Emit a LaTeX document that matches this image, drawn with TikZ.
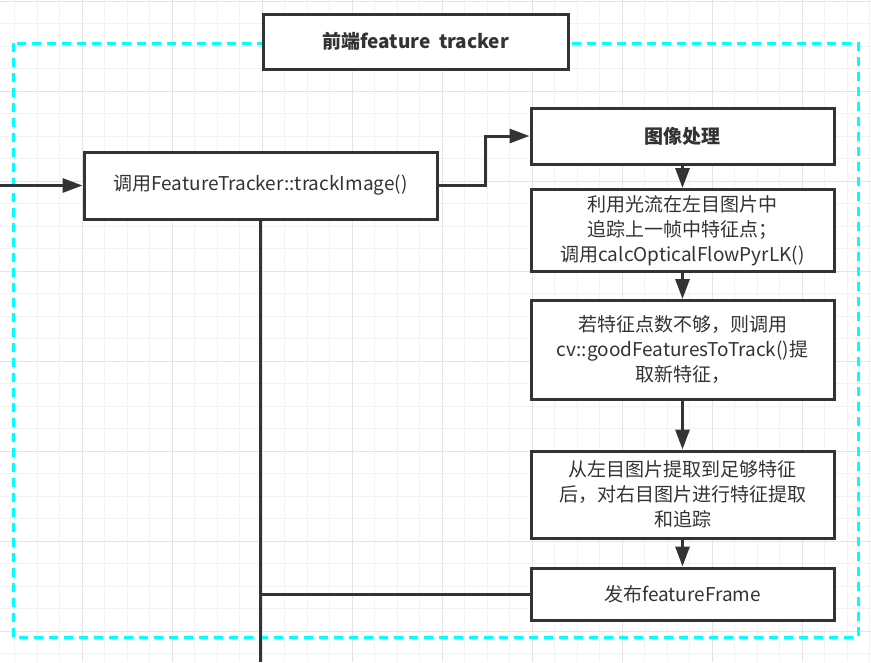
\documentclass[tikz,border=0pt]{standalone}
\usepackage{fontspec}
\setmainfont{Noto Sans CJK SC}
\usepackage{xcolor}
\usetikzlibrary{arrows.meta}
\definecolor{boxgray}{HTML}{333333}
\definecolor{gridminor}{HTML}{F2F2F2}
\definecolor{gridmajor}{HTML}{E4E4E4}
\definecolor{framecyan}{HTML}{00FFFF}
\tikzset{
  box/.style={draw=boxgray,line width=3pt,fill=white,text=boxgray,align=center,
    minimum width=303pt,inner sep=0pt,font=\fontsize{19}{25}\selectfont},
  boldbox/.style={box,font=\bfseries\fontsize{19}{25}\selectfont},
  arr/.style={draw=boxgray,line width=3pt,-{Triangle[length=20pt,width=14pt]}},
  link/.style={draw=boxgray,line width=3pt},
}

\begin{document}
\begin{tikzpicture}[x=1pt,y=-1pt]
 	\useasboundingbox (0,0) rectangle (871,662);
 	% background grid
 	\foreach \gx in {14.5,37,...,871} \draw[gridminor,line width=1pt] (\gx,0) -- (\gx,662);
 	\foreach \gy in {1,23.5,...,662} \draw[gridminor,line width=1pt] (0,\gy) -- (871,\gy);
 	\foreach \gx in {82,172,...,802} \draw[gridmajor,line width=1pt] (\gx,0) -- (\gx,662);
 	\foreach \gy in {1,91,...,631} \draw[gridmajor,line width=1pt] (0,\gy) -- (871,\gy);
 	% dashed frame
 	\draw[framecyan,line width=3pt,dash pattern=on 9pt off 6pt] (13,43) rectangle (858,637);
 	\node[boldbox,minimum width=305pt,minimum height=55pt] (title) at (415.5,41.5) {前端feature~~tracker};
 	\node[box,minimum width=353pt,minimum height=67pt] (track) at (260.5,185.5) {调用FeatureTracker::trackImage()};
 	\node[boldbox,minimum height=56pt] (imgproc) at (682.5,136) {图像处理};
 	\node[box,minimum height=82pt] (flow) at (682.5,230.5) {利用光流在左目图片中\\追踪上一帧中特征点；\\调用calcOpticalFlowPyrLK()};
 	\node[box,minimum height=99pt] (detect) at (682.5,350) {若特征点数不够，则调用\\cv::goodFeaturesToTrack()提\\取新特征，};
 	\node[box,minimum height=87pt] (stereo) at (682.5,494.5) {从左目图片提取到足够特征\\后，对右目图片进行特征提取\\和追踪};
 	\node[box,minimum height=52pt] (publish) at (682.5,594) {发布featureFrame};
 	\coordinate (in) at (0,185.5);
 	\coordinate (out) at (260.5,662);
 	\draw[arr] (in) -- (track);
 	\draw[arr] (track.east) -- ++(47,0) |- (imgproc.west);
 	\draw[arr] (imgproc) -- (flow);
 	\draw[arr] (flow) -- (detect);
 	\draw[arr] (detect) -- (stereo);
 	\draw[arr] (stereo) -- (publish);
 	\draw[link] (track.south) -- (out);
 	\draw[link] (publish.west) -- (publish.west -| out);
\end{tikzpicture}
\end{document}
